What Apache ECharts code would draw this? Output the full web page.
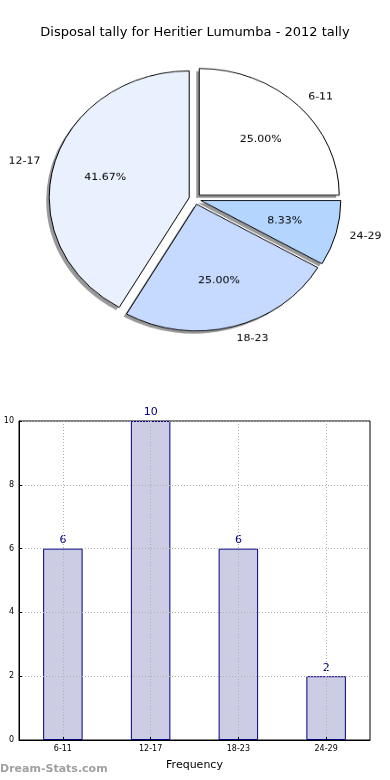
<!DOCTYPE html>
<html><head><meta charset="utf-8">
<script src="https://cdn.jsdelivr.net/npm/echarts@6/dist/echarts.min.js"></script>
<style>
html,body{margin:0;padding:0;background:#fff;}
#main{position:absolute;left:0;top:0;width:390px;height:780px;}
#pie{position:absolute;left:0;top:0;width:390px;height:400px;transform:scaleY(0.905);transform-origin:50% 199px;}
</style></head>
<body>
<div id="main"></div>
<div id="pie"></div>
<script>
const titleText = 'Disposal tally for Heritier Lumumba - 2012 tally';
const categories = ['6-11', '12-17', '18-23', '24-29'];
const tallies = [6, 10, 6, 2];
const pieColors = ['#ffffff', '#eaf1fe', '#c6d9fe', '#b4d5fe'];
const yTicks = [0, 2, 4, 6, 8, 10];
const xName = 'Frequency';
const yName = 'Disposal Tally';
const watermark = 'Dream-Stats.com';

const FONT = 'DejaVu Sans';
const total = tallies.reduce((a, b) => a + b, 0);

const main = echarts.init(document.getElementById('main'), null, {renderer: 'canvas'});
main.setOption({
  animation: false,
  textStyle: {fontFamily: FONT},
  title: {text: titleText, left: 'center', top: 21,
    textStyle: {fontFamily: FONT, fontSize: 13, fontWeight: 'normal', color: '#000'}},
  graphic: [{type: 'text', left: 0, top: 764,
    style: {text: watermark, fontFamily: FONT, fontSize: 11, fontWeight: 'bold', fill: '#a0a0a0'}}],
  grid: {left: 19, right: 20, top: 421, bottom: 40, containLabel: false, outerBoundsMode: 'none',
    show: true, borderColor: '#000', borderWidth: 1},
  xAxis: {type: 'category', data: categories, z: 5,
    name: xName, nameLocation: 'middle', nameGap: 20,
    nameTextStyle: {fontFamily: FONT, fontSize: 11, color: '#000'},
    axisLine: {lineStyle: {color: '#000'}},
    axisTick: {show: true, alignWithLabel: true, inside: true, length: 3, lineStyle: {color: '#000'}},
    axisLabel: {fontFamily: FONT, fontSize: 8, color: '#000', margin: 5},
    splitLine: {show: true, alignWithLabel: true, lineStyle: {color: '#b0b0b0', type: [1, 2], width: 1}}},
  yAxis: {type: 'value', min: yTicks[0], max: yTicks[yTicks.length - 1], interval: yTicks[1] - yTicks[0], z: 5,
    name: yName, nameLocation: 'middle', nameGap: 13, nameRotate: 90,
    nameTextStyle: {fontFamily: FONT, fontSize: 10, color: '#000'},
    axisLine: {show: true, lineStyle: {color: '#000'}},
    axisTick: {show: true, inside: true, length: 3, lineStyle: {color: '#000'}},
    axisLabel: {fontFamily: FONT, fontSize: 8, color: '#000', margin: 5},
    splitLine: {show: true, lineStyle: {color: '#b0b0b0', type: [1, 2], width: 1}}},
  series: [{type: 'bar', data: tallies, barWidth: '45%', z: 2,
    itemStyle: {color: '#cccce4', borderColor: '#000080', borderWidth: 1},
    label: {show: true, position: 'top', distance: 3, fontFamily: FONT, fontSize: 11, color: '#000080'}}]
});

const R = 140;
const CX = 195, CY = 199;
const pieData = categories.map((c, i) => ({name: c, value: tallies[i], selected: true,
  itemStyle: {color: pieColors[i]}}));
const common = {type: 'pie', radius: [0, R], startAngle: 0, clockwise: false,
  selectedMode: 'multiple', selectedOffset: 6, silent: true, emphasis: {disabled: true}};
const pie = echarts.init(document.getElementById('pie'), null, {renderer: 'canvas'});
pie.setOption({
  animation: false,
  series: [
    Object.assign({}, common, {center: [CX - 3, CY + 3], z: 1,
      data: pieData.map(d => Object.assign({}, d, {itemStyle: {color: '#999999'}})),
      itemStyle: {borderWidth: 0}, label: {show: false}, labelLine: {show: false}}),
    Object.assign({}, common, {center: [CX, CY], z: 2,
      data: pieData,
      itemStyle: {borderColor: '#000', borderWidth: 1},
      label: {show: true, position: 'outside', formatter: '{b}', fontFamily: FONT, fontSize: 11, color: '#000',
        overflow: 'none', edgeDistance: 0},
      labelLine: {show: false, length: 14, length2: 0},
      labelLayout: p => ({dx: (p.labelRect.x + p.labelRect.width / 2 > CX) ? -5 : 5})}),
    Object.assign({}, common, {center: [CX, CY], radius: [R * 0.2, R], z: 3,
      data: pieData.map(d => Object.assign({}, d, {itemStyle: {color: 'rgba(0,0,0,0)'}})),
      itemStyle: {borderWidth: 0},
      label: {show: true, position: 'inside', fontFamily: FONT, fontSize: 11, color: '#000',
        formatter: p => (p.value / total * 100).toFixed(2) + '%'}})
  ]
});
</script>
</body></html>
